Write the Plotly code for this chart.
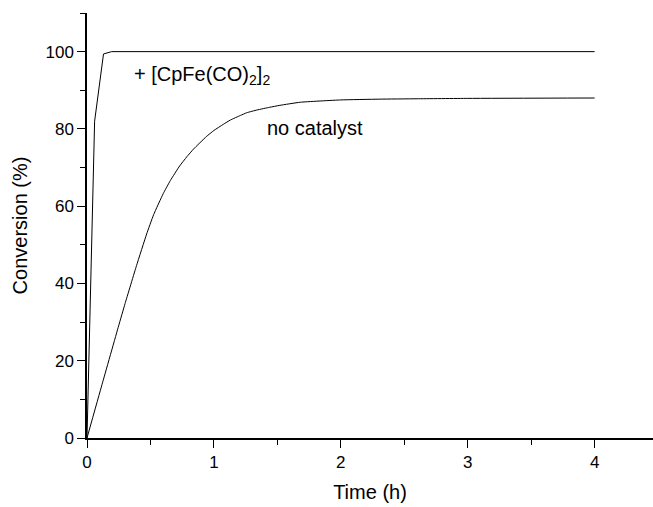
import plotly.graph_objects as go

# Data
cat_time = [0.0, 0.06, 0.13, 0.195, 4.0]
cat_conv = [0.0, 82.0, 99.4, 100.0, 100.0]

nocat_time = [0.0, 0.118, 0.249, 0.30, 0.39, 0.47, 0.525, 0.60, 0.656, 0.73, 0.787, 0.84, 0.94, 1.0,
              1.075, 1.13, 1.21, 1.26, 1.34, 1.44, 1.52, 1.68, 2.0, 2.3, 2.6, 3.0, 4.0]
nocat_conv = [0.0, 13.8, 29.0, 34.8, 44.6, 52.8, 57.8, 63.2, 66.6, 70.4, 72.8, 74.8, 78.0, 79.6,
              81.2, 82.3, 83.5, 84.2, 84.9, 85.6, 86.1, 86.9, 87.5, 87.7, 87.8, 87.9, 88.0]

x_ticks = [0, 1, 2, 3, 4]
y_ticks = [0, 20, 40, 60, 80, 100]

font = "Liberation Sans, Arial, sans-serif"

fig = go.Figure()
fig.add_trace(go.Scatter(x=cat_time, y=cat_conv, mode="lines",
                         line=dict(color="black", width=1), showlegend=False))
fig.add_trace(go.Scatter(x=nocat_time, y=nocat_conv, mode="lines",
                         line=dict(color="black", width=1, shape="spline", smoothing=0.4),
                         showlegend=False))

fig.add_annotation(x=0.355, y=93.8, xanchor="left", yanchor="middle", showarrow=False,
                   text="+ [CpFe(CO)<sub>2</sub>]<sub>2</sub>",
                   font=dict(family=font, size=20, color="black"))
fig.add_annotation(x=1.40, y=80.3, xanchor="left", yanchor="middle", showarrow=False,
                   text="no catalyst", font=dict(family=font, size=20, color="black"))

fig.update_layout(
    width=653, height=507,
    margin=dict(l=87, r=0, t=13, b=69),
    paper_bgcolor="white", plot_bgcolor="white",
    font=dict(family=font, size=17, color="black"),
    xaxis=dict(range=[0, 4.46], tickvals=x_ticks, ticks="outside", ticklen=8, tickwidth=1,
               tickcolor="black", showline=True, linecolor="black", linewidth=1.5,
               showgrid=False, zeroline=False,
               minor=dict(dtick=0.5, ticks="outside", ticklen=5, tickcolor="black", tickwidth=1),
               title=dict(text="Time (h)", font=dict(size=20), standoff=14)),
    yaxis=dict(range=[0, 110], tickvals=y_ticks, ticks="outside", ticklen=8, tickwidth=1,
               tickcolor="black", showline=True, linecolor="black", linewidth=1.5,
               showgrid=False, zeroline=False,
               minor=dict(dtick=10, ticks="outside", ticklen=5, tickcolor="black", tickwidth=1),
               title=dict(text="Conversion (%)", font=dict(size=20), standoff=12)),
)

fig.write_html("out.html")
